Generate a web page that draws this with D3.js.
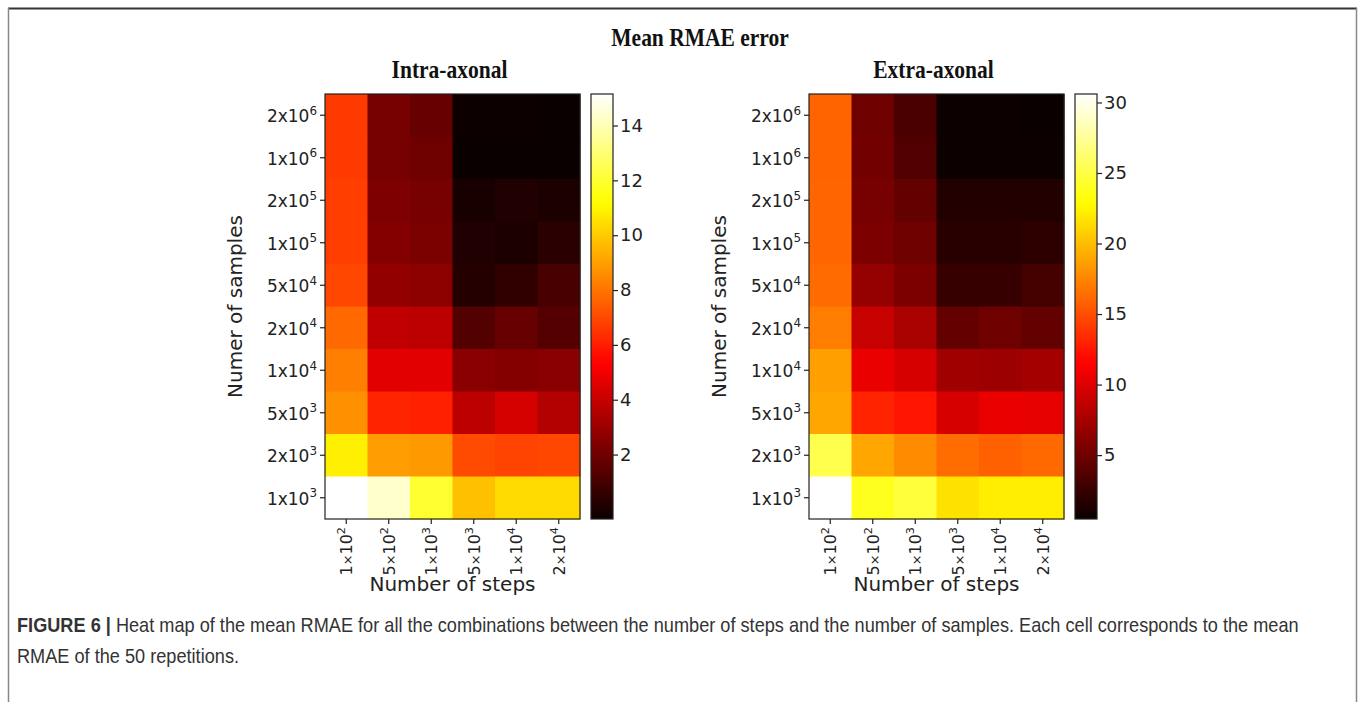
<!DOCTYPE html>
<html><head><meta charset="utf-8">
<script src="https://cdn.jsdelivr.net/npm/d3@7"></script>
<style>
html,body{margin:0;padding:0;background:#fff;}
svg{display:block;}
</style></head>
<body>
<svg id="chart" width="1363" height="702"></svg>
<script>
// ---- data ----
const steps = [["1","2"],["5","2"],["1","3"],["5","3"],["1","4"],["2","4"]];       // 1x10^2 ... 2x10^4
const samples = [["2","6"],["1","6"],["2","5"],["1","5"],["5","4"],["2","4"],["1","4"],["5","3"],["2","3"],["1","3"]];
const intraValues = [
  [6.65, 2.15, 1.8, -0.3, -0.3, -0.35],
  [6.65, 2.15, 1.95, -0.35, -0.35, -0.35],
  [6.75, 2.35, 2.15, -0.03, 0.15, 0.05],
  [6.75, 2.45, 2.25, 0.15, 0.05, 0.39],
  [6.95, 2.8, 2.65, 0.25, 0.51, 1.09],
  [7.75, 3.85, 3.75, 1.32, 1.78, 1.35],
  [8.25, 4.65, 4.65, 2.59, 2.45, 2.59],
  [8.65, 6.15, 6.05, 3.75, 4.33, 3.55],
  [10.85, 8.95, 8.85, 7.05, 6.85, 6.95],
  [15.15, 14.35, 11.95, 9.75, 10.35, 10.35]
];
const extraValues = [
  [15.98, 4.96, 3.33, 0.52, 0.52, 0.47],
  [15.98, 5.16, 3.63, 0.52, 0.52, 0.52],
  [16.08, 5.37, 4.45, 1.56, 1.56, 1.56],
  [16.08, 5.57, 4.96, 1.8, 1.8, 2.0],
  [16.28, 6.69, 5.57, 2.41, 2.41, 3.12],
  [17.1, 8.94, 7.61, 4.45, 4.96, 4.45],
  [18.63, 10.59, 9.65, 7.2, 7.0, 7.41],
  [18.93, 13.04, 12.43, 9.65, 10.59, 10.39],
  [25.27, 18.93, 17.71, 16.39, 15.78, 16.18],
  [30.6, 23.83, 24.75, 21.59, 22.2, 22.2]
];
const intraTicks = [2, 4, 6, 8, 10, 12, 14];
const extraTicks = [5, 10, 15, 20, 25, 30];
const titleText = "Mean RMAE error";
const panelTitles = ["Intra-axonal", "Extra-axonal"];
const yLabel = "Numer of samples";
const xLabel = "Number of steps";
const captionBold = "FIGURE 6 |";
const captionLines = [
  " Heat map of the mean RMAE for all the combinations between the number of steps and the number of samples. Each cell corresponds to the mean",
  "RMAE of the 50 repetitions."
];

// ---- hot colormap (matplotlib) ----
function hot(t) {
  t = Math.max(0, Math.min(1, t));
  const a = 0.365079, b = 0.746032;
  const r = t < a ? 0.0416 + (1 - 0.0416) * t / a : 1;
  const g = t < a ? 0 : (t < b ? (t - a) / (b - a) : 1);
  const bl = t < b ? 0 : (t - b) / (1 - b);
  return d3.rgb(r * 255, g * 255, bl * 255).toString();
}

const svg = d3.select("#chart");
// frame
svg.append("line").attr("x1", 8).attr("x2", 1357).attr("y1", 8.5).attr("y2", 8.5).attr("stroke", "#333").attr("stroke-width", 2);
svg.append("line").attr("x1", 8.5).attr("x2", 8.5).attr("y1", 8).attr("y2", 702).attr("stroke", "#888").attr("stroke-width", 1.5);
svg.append("line").attr("x1", 1356.5).attr("x2", 1356.5).attr("y1", 8).attr("y2", 702).attr("stroke", "#888").attr("stroke-width", 1.5);

const serif = "Liberation Serif, Times New Roman, serif";
function condensedTitle(x, y, str, size, sx) {
  svg.append("text").attr("transform", `translate(${x},${y}) scale(${sx},1)`).attr("text-anchor", "middle")
    .attr("font-family", serif).attr("font-weight", "bold")
    .attr("font-size", size).attr("fill", "#111").text(str);
}
condensedTitle(700, 46, titleText, 25, 0.86);

const tickFont = "DejaVu Sans, sans-serif";

function supLabel(sel, pair, base, rotated) {
  sel.text(null);
  if (rotated) {
    sel.append("tspan").text(pair[0]);
    sel.append("tspan").attr("font-size", base * 0.8).text("×");
    sel.append("tspan").text("10");
  } else {
    sel.append("tspan").text(pair[0] + "x10");
  }
  sel.append("tspan").attr("dy", -0.45 * base).attr("font-size", base * 0.7).text(pair[1]);
}

function panel(x0, values, ticks, titleStr) {
  const top = 94, bottom = 519;
  const cell = (bottom - top) / samples.length;
  const width = cell * steps.length;
  const g = svg.append("g");
  const x = d3.scaleBand().domain(d3.range(steps.length)).range([x0, x0 + width]);
  const y = d3.scaleBand().domain(d3.range(samples.length)).range([top, bottom]);
  const flat = values.flat();
  const ext = d3.extent(flat);
  const c = d3.scaleLinear().domain(ext).range([0, 1]);

  condensedTitle(x0 + width / 2 - 3, 78, titleStr, 25, 0.86);

  values.forEach((row, i) => row.forEach((v, j) => {
    g.append("rect").attr("x", x(j)).attr("y", y(i)).attr("width", x.bandwidth() + 0.5).attr("height", y.bandwidth() + 0.5)
      .attr("fill", hot(c(v)));
  }));
  g.append("rect").attr("x", x0).attr("y", top).attr("width", width).attr("height", bottom - top)
    .attr("fill", "none").attr("stroke", "#222").attr("stroke-width", 1.2);

  // y axis
  const ya = g.append("g").attr("transform", `translate(${x0},0)`)
    .call(d3.axisLeft(y).tickSize(5).tickPadding(3).tickFormat(""));
  ya.select(".domain").remove();
  ya.selectAll(".tick line").attr("stroke", "#222").attr("stroke-width", 1.2);
  ya.selectAll(".tick text").each(function (d) {
    const t = d3.select(this).attr("font-family", tickFont).attr("font-size", 17).attr("fill", "#222").attr("dy", "0.42em");
    supLabel(t, samples[d], 17, false);
  });

  // x axis
  const xa = g.append("g").attr("transform", `translate(0,${bottom})`)
    .call(d3.axisBottom(x).tickSize(5).tickFormat(""));
  xa.select(".domain").remove();
  xa.selectAll(".tick line").attr("stroke", "#222").attr("stroke-width", 1.2);
  xa.selectAll(".tick text").each(function (d) {
    const t = d3.select(this).attr("font-family", tickFont).attr("font-size", 16).attr("fill", "#222")
      .attr("text-anchor", "end").attr("y", 0).attr("dy", 0)
      .attr("transform", "translate(6,8) rotate(-90)");
    supLabel(t, steps[d], 16, true);
  });

  g.append("text").attr("transform", `translate(${x0 - 83},${(top + bottom) / 2}) rotate(-90)`)
    .attr("text-anchor", "middle").attr("font-family", tickFont).attr("font-size", 20).attr("fill", "#222").text(yLabel);
  g.append("text").attr("x", x0 + width / 2).attr("y", 591).attr("text-anchor", "middle")
    .attr("font-family", tickFont).attr("font-size", 20).attr("fill", "#222").text(xLabel);

  // colorbar
  const cbx = x0 + width + 11, cbw = 22;
  const gid = "grad" + x0;
  const grad = svg.append("defs").append("linearGradient").attr("id", gid)
    .attr("x1", 0).attr("x2", 0).attr("y1", 1).attr("y2", 0);
  d3.range(0, 1.0001, 0.02).forEach(t => grad.append("stop").attr("offset", t).attr("stop-color", hot(t)));
  g.append("rect").attr("x", cbx).attr("y", top).attr("width", cbw).attr("height", bottom - top)
    .attr("fill", `url(#${gid})`).attr("stroke", "#222").attr("stroke-width", 1.2);
  const cs = d3.scaleLinear().domain(ext).range([bottom, top]);
  const ca = g.append("g").attr("transform", `translate(${cbx + cbw},0)`)
    .call(d3.axisRight(cs).tickValues(ticks).tickSize(5).tickPadding(2));
  ca.select(".domain").remove();
  ca.selectAll(".tick line").attr("stroke", "#222").attr("stroke-width", 1.2);
  ca.selectAll(".tick text").attr("font-family", tickFont).attr("font-size", 18).attr("fill", "#222");
}

panel(325, intraValues, intraTicks, panelTitles[0]);
panel(809, extraValues, extraTicks, panelTitles[1]);

// caption (condensed sans)
const capFont = "Liberation Sans, Arial, sans-serif";
const cap = svg.append("text").attr("font-family", capFont).attr("font-size", 19.5).attr("fill", "#333");
cap.append("tspan").attr("font-weight", "bold").text(captionBold);
cap.append("tspan").text(captionLines[0]);
const w = cap.node().getComputedTextLength();
const sx = (1300 - 17) / w;
cap.attr("transform", `translate(17,632) scale(${sx},1)`);
svg.append("text").attr("font-family", capFont).attr("font-size", 19.5).attr("fill", "#333")
  .attr("transform", `translate(17,663) scale(${sx},1)`).text(captionLines[1]);
</script>
</body></html>
